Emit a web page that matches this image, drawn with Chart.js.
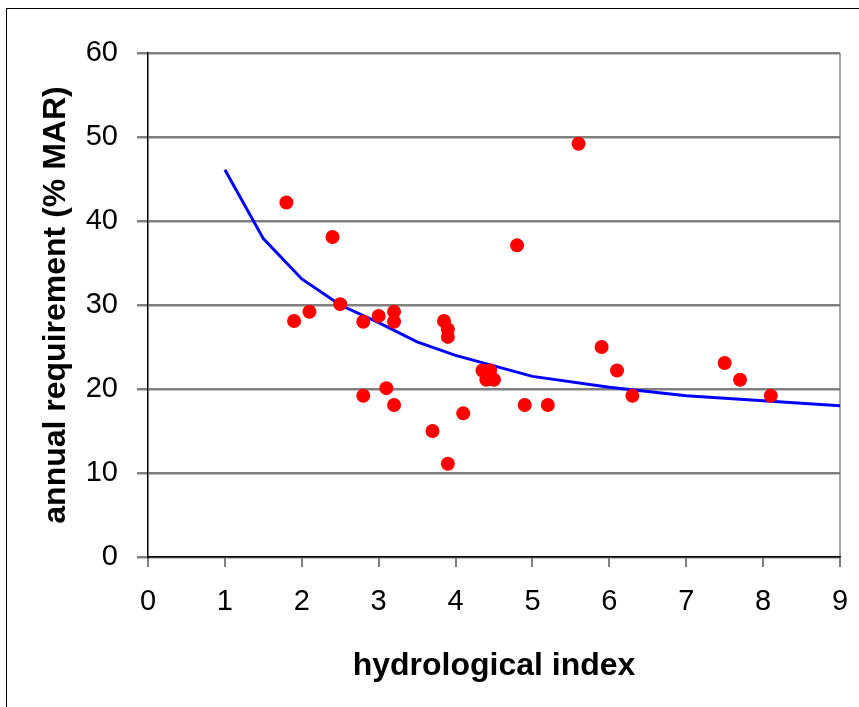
<!DOCTYPE html>
<html>
<head>
<meta charset="utf-8">
<script src="https://cdn.jsdelivr.net/npm/chart.js@4/dist/chart.umd.min.js"></script>
<style>
  html, body { margin: 0; padding: 0; background: #fff; }
  #wrap { position: relative; width: 859px; height: 707px; overflow: hidden; }
  #frame { position: absolute; left: 6px; top: 8px; width: 2000px; height: 2000px;
           border-left: 1px solid #000; border-top: 1px solid #000; }
  canvas { position: absolute; left: 0; top: 0; }
</style>
</head>
<body>
<div id="wrap">
  <div id="frame"></div>
  <canvas id="c" width="859" height="707"></canvas>
</div>
<script>
// Observed points
const obsX = [1.8, 2.4, 1.9, 2.1, 2.5, 2.8, 3.0, 3.2, 3.2, 2.8, 3.1, 3.2, 3.7, 3.9, 3.85, 3.9, 3.9, 4.1, 4.35, 4.45, 4.4, 4.5, 4.8, 4.9, 5.2, 5.6, 5.9, 6.1, 6.3, 7.5, 7.7, 8.1];
const obsY = [42.2, 38.1, 28.1, 29.2, 30.1, 28.0, 28.7, 29.2, 28.0, 19.2, 20.1, 18.1, 15.0, 11.1, 28.1, 27.1, 26.2, 17.1, 22.2, 22.2, 21.1, 21.1, 37.1, 18.1, 18.1, 49.2, 25.0, 22.2, 19.2, 23.1, 21.1, 19.2];
// Fitted curve
const curveX = [1, 1.5, 2, 2.5, 3, 3.5, 4, 5, 6, 7, 8, 9];
const curveY = [46.1, 37.9, 33.1, 30.0, 27.9, 25.6, 24.0, 21.5, 20.2, 19.2, 18.6, 18.0];
// Axis ticks
const xTicks = [0, 1, 2, 3, 4, 5, 6, 7, 8, 9];
const yTicks = [0, 10, 20, 30, 40, 50, 60];
const xTitle = 'hydrological index';
const yTitle = 'annual requirement (% MAR)';

const FONT = "'Liberation Sans', Arial, Helvetica, sans-serif";

const scatterData = obsX.map((x, i) => ({ x: x, y: obsY[i] }));
const curveData = curveX.map((x, i) => ({ x: x, y: curveY[i] }));

new Chart(document.getElementById('c'), {
  type: 'scatter',
  data: {
    datasets: [
      {
        label: 'observed',
        data: scatterData,
        backgroundColor: '#ff0000',
        borderWidth: 0,
        pointRadius: 7,
        pointHoverRadius: 7,
        order: 0
      },
      {
        label: 'curve',
        type: 'line',
        data: curveData,
        borderColor: '#0000ff',
        borderWidth: 3,
        pointRadius: 0,
        tension: 0,
        fill: false,
        order: 1
      }
    ]
  },
  options: {
    responsive: false,
    animation: false,
    devicePixelRatio: 1,
    layout: { padding: { left: 0, right: 19, top: 53, bottom: 0 } },
    plugins: { legend: { display: false }, tooltip: { enabled: false } },
    scales: {
      x: {
        type: 'linear',
        min: 0, max: 9,
        afterBuildTicks: s => { s.ticks = xTicks.map(v => ({ value: v })); },
        afterFit: s => { s.height = 150; s.paddingRight = 0; s.paddingLeft = 0; },
        border: { display: true, color: '#000', width: 1.5 },
        grid: {
          drawOnChartArea: true,
          color: ctx => (ctx.tick && ctx.tick.value === 9) ? '#a6a6a6' : 'rgba(0,0,0,0)',
          lineWidth: 2,
          tickColor: '#000',
          tickLength: 10,
          tickWidth: 1
        },
        ticks: {
          color: '#000',
          font: { family: FONT, size: 29 },
          padding: 18,
          maxRotation: 0,
          autoSkip: false
        },
        title: {
          display: true,
          text: xTitle,
          color: '#000',
          font: { family: FONT, size: 32, weight: 'bold' },
          padding: { top: 0, bottom: 22 }
        }
      },
      y: {
        type: 'linear',
        min: 0, max: 60,
        afterBuildTicks: s => { s.ticks = yTicks.map(v => ({ value: v })); },
        afterFit: s => { s.width = 148; s.paddingTop = 0; s.paddingBottom = 0; },
        border: { display: true, color: '#000', width: 1.5 },
        grid: {
          color: '#808080',
          lineWidth: 2.5,
          tickColor: '#808080',
          tickLength: 11
        },
        ticks: {
          color: '#000',
          font: { family: FONT, size: 29 },
          padding: 19
        },
        title: {
          display: true,
          text: yTitle,
          color: '#000',
          font: { family: FONT, size: 32, weight: 'bold' },
          padding: { top: 37, bottom: 0 }
        }
      }
    }
  }
});
</script>
</body>
</html>
